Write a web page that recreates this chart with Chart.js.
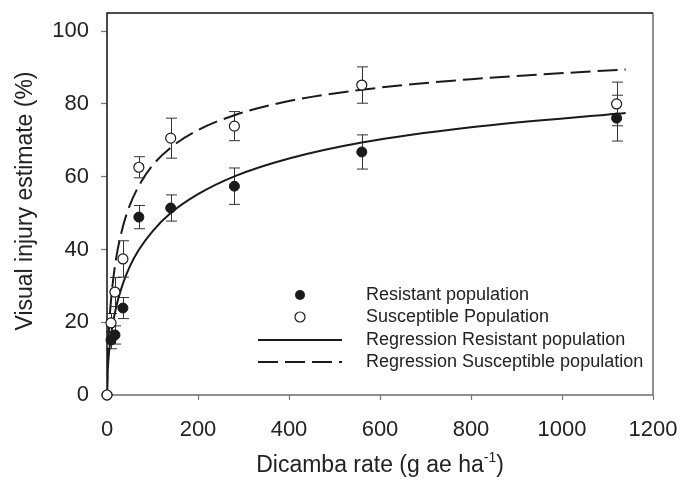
<!DOCTYPE html>
<html>
<head>
<meta charset="utf-8">
<script src="https://cdn.jsdelivr.net/npm/chart.js@4.4.1/dist/chart.umd.min.js"></script>
<style>
  html, body { margin: 0; padding: 0; background: #ffffff; }
  #wrap { width: 683px; height: 480px; }
</style>
</head>
<body>
<div id="wrap"><canvas id="c" width="683" height="480"></canvas></div>
<script>
// ---- data ----
const doses = [0, 8.75, 17.5, 35, 70, 140, 280, 560, 1120];
const resistant = [0, 15.1, 16.5, 23.9, 48.9, 51.4, 57.4, 66.8, 76.1];
const resistantErr = [0, 2.4, 2.5, 2.9, 3.2, 3.6, 5.0, 4.7, 6.3];
const susceptible = [0, 19.8, 28.3, 37.4, 62.6, 70.6, 73.9, 85.2, 80.0];
const susceptibleErr = [0, 2.6, 4.0, 5.0, 2.9, 5.5, 4.0, 5.0, 6.0];
const curveX = [0, 2, 5, 10, 20, 35, 50, 70, 100, 140, 200, 280, 400, 560, 800, 1140];
const curveResistant = [0, 7.5, 12.3, 17.4, 24.1, 30.6, 35.3, 39.9, 45.0, 50.0, 55.2, 60.1, 65.0, 69.4, 73.6, 77.5];
const curveSusceptible = [0, 11.8, 19.6, 27.6, 37.5, 46.3, 52.1, 57.5, 63.1, 68.0, 72.8, 76.9, 80.8, 83.9, 86.8, 89.5];
const xTicks = [0, 200, 400, 600, 800, 1000, 1200];
const yTicks = [0, 20, 40, 60, 80, 100];
const legendLabels = ["Resistant population", "Susceptible Population", "Regression Resistant population", "Regression Susceptible population"];
const xTitle = ["Dicamba rate (g ae ha", "-1", ")"];
const yTitle = "Visual injury estimate (%)";

const FONT = "'Liberation Sans', Arial, Helvetica, sans-serif";
const INK = '#1a1a1a';

const toXY = (xs, ys) => xs.map((x, i) => ({ x: x, y: ys[i] }));

const errorBars = {
  id: 'errorBars',
  beforeDatasetsDraw(chart) {
    const ctx = chart.ctx, xs = chart.scales.x, ys = chart.scales.y;
    ctx.save();
    ctx.strokeStyle = '#333';
    ctx.lineWidth = 1;
    [[resistant, resistantErr], [susceptible, susceptibleErr]].forEach(([vals, errs]) => {
      doses.forEach((d, i) => {
        if (!errs[i]) return;
        const px = Math.round(xs.getPixelForValue(d)) + 0.5;
        const t = ys.getPixelForValue(vals[i] + errs[i]);
        const b = ys.getPixelForValue(vals[i] - errs[i]);
        ctx.beginPath();
        ctx.moveTo(px, t); ctx.lineTo(px, b);
        ctx.moveTo(px - 5.5, t); ctx.lineTo(px + 5.5, t);
        ctx.moveTo(px - 5.5, b); ctx.lineTo(px + 5.5, b);
        ctx.stroke();
      });
    });
    ctx.restore();
  }
};

const frameAndText = {
  id: 'frameAndText',
  beforeDatasetsDraw(chart) {
    const ctx = chart.ctx, a = chart.chartArea;
    ctx.save();
    ctx.lineWidth = 1.5;
    ctx.strokeStyle = '#6e6e6e';
    ctx.beginPath();
    ctx.moveTo(a.left, a.bottom); ctx.lineTo(a.right, a.bottom); ctx.lineTo(a.right, a.top);
    ctx.stroke();
    ctx.strokeStyle = '#111';
    ctx.beginPath();
    ctx.moveTo(a.left, a.bottom); ctx.lineTo(a.left, a.top); ctx.lineTo(a.right, a.top);
    ctx.stroke();
    ctx.restore();
  },
  afterDraw(chart) {
    const ctx = chart.ctx, a = chart.chartArea;
    ctx.save();
    ctx.fillStyle = '#222';
    // y title
    ctx.font = '23px ' + FONT;
    ctx.textAlign = 'center';
    ctx.textBaseline = 'middle';
    ctx.translate(26, 201);
    ctx.rotate(-Math.PI / 2);
    ctx.fillText(yTitle, 0, 0);
    ctx.setTransform(1, 0, 0, 1, 0, 0);
    // x title with superscript
    ctx.textAlign = 'left';
    ctx.textBaseline = 'alphabetic';
    ctx.font = '23px ' + FONT;
    const w1 = ctx.measureText(xTitle[0]).width;
    const w3 = ctx.measureText(xTitle[2]).width;
    ctx.font = '14px ' + FONT;
    const w2 = ctx.measureText(xTitle[1]).width;
    const total = w1 + w2 + w3;
    const cx = (a.left + a.right) / 2;
    let x0 = cx - total / 2;
    const base = 472;
    ctx.font = '23px ' + FONT;
    ctx.fillText(xTitle[0], x0, base);
    ctx.font = '14px ' + FONT;
    ctx.fillText(xTitle[1], x0 + w1, base - 10);
    ctx.font = '23px ' + FONT;
    ctx.fillText(xTitle[2], x0 + w1 + w2, base);

    // legend
    const rows = [295, 317, 340, 362];
    const mx = 300, lx0 = 258, lx1 = 342, tx = 366;
    ctx.fillStyle = INK;
    ctx.beginPath(); ctx.arc(mx, rows[0], 5, 0, Math.PI * 2); ctx.fill();
    ctx.fillStyle = '#fff'; ctx.strokeStyle = INK; ctx.lineWidth = 1.2;
    ctx.beginPath(); ctx.arc(mx, rows[1], 5, 0, Math.PI * 2); ctx.fill(); ctx.stroke();
    ctx.lineWidth = 2;
    ctx.beginPath(); ctx.moveTo(lx0, rows[2]); ctx.lineTo(lx1, rows[2]); ctx.stroke();
    ctx.setLineDash([20, 7]);
    ctx.beginPath(); ctx.moveTo(lx0, rows[3]); ctx.lineTo(lx1, rows[3]); ctx.stroke();
    ctx.setLineDash([]);
    ctx.fillStyle = '#222';
    ctx.font = '18px ' + FONT;
    ctx.textBaseline = 'middle';
    legendLabels.forEach((t, i) => ctx.fillText(t, tx, rows[i]));
    ctx.restore();
  }
};

new Chart(document.getElementById('c'), {
  type: 'scatter',
  data: {
    datasets: [
      {
        label: legendLabels[1],
        data: toXY(doses, susceptible),
        pointStyle: 'circle', pointRadius: 5, pointHoverRadius: 5,
        backgroundColor: '#ffffff', borderColor: INK, borderWidth: 1.2,
        showLine: false, clip: false
      },
      {
        label: legendLabels[0],
        data: toXY(doses, resistant),
        pointStyle: 'circle', pointRadius: 5, pointHoverRadius: 5,
        backgroundColor: INK, borderColor: INK, borderWidth: 1,
        showLine: false, clip: false
      },
      {
        label: legendLabels[2],
        type: 'line',
        data: toXY(curveX, curveResistant),
        borderColor: INK, borderWidth: 2, pointRadius: 0,
        cubicInterpolationMode: 'monotone', fill: false
      },
      {
        label: legendLabels[3],
        type: 'line',
        data: toXY(curveX, curveSusceptible),
        borderColor: INK, borderWidth: 2, borderDash: [20, 7], pointRadius: 0,
        cubicInterpolationMode: 'monotone', fill: false
      }
    ]
  },
  options: {
    responsive: false,
    animation: false,
    devicePixelRatio: 1,
    layout: { padding: { top: 13, right: 30, left: 0, bottom: 0 } },
    plugins: { legend: { display: false }, tooltip: { enabled: false } },
    scales: {
      x: {
        type: 'linear', min: 0, max: 1200,
        border: { display: false },
        grid: { drawOnChartArea: false, drawTicks: true, tickLength: 5, color: '#777', tickWidth: 1.2 },
        afterBuildTicks: (s) => { s.ticks = xTicks.map(v => ({ value: v })); },
        ticks: { color: '#222', font: { family: FONT, size: 22 }, padding: 17, maxRotation: 0, autoSkip: false,
                 callback: (v) => String(v) },
        afterFit: (s) => { s.height = 85; s.paddingLeft = 0; s.paddingRight = 0; }
      },
      y: {
        type: 'linear', min: 0, max: 105,
        border: { display: false },
        grid: { drawOnChartArea: false, drawTicks: true, tickLength: 6, color: '#777', tickWidth: 1.2 },
        afterBuildTicks: (s) => { s.ticks = yTicks.map(v => ({ value: v })); },
        ticks: { color: '#222', font: { family: FONT, size: 22 }, padding: 12, callback: (v) => String(v) },
        afterFit: (s) => { s.width = 107; s.paddingTop = 0; s.paddingBottom = 0; }
      }
    }
  },
  plugins: [frameAndText, errorBars]
});
</script>
</body>
</html>
